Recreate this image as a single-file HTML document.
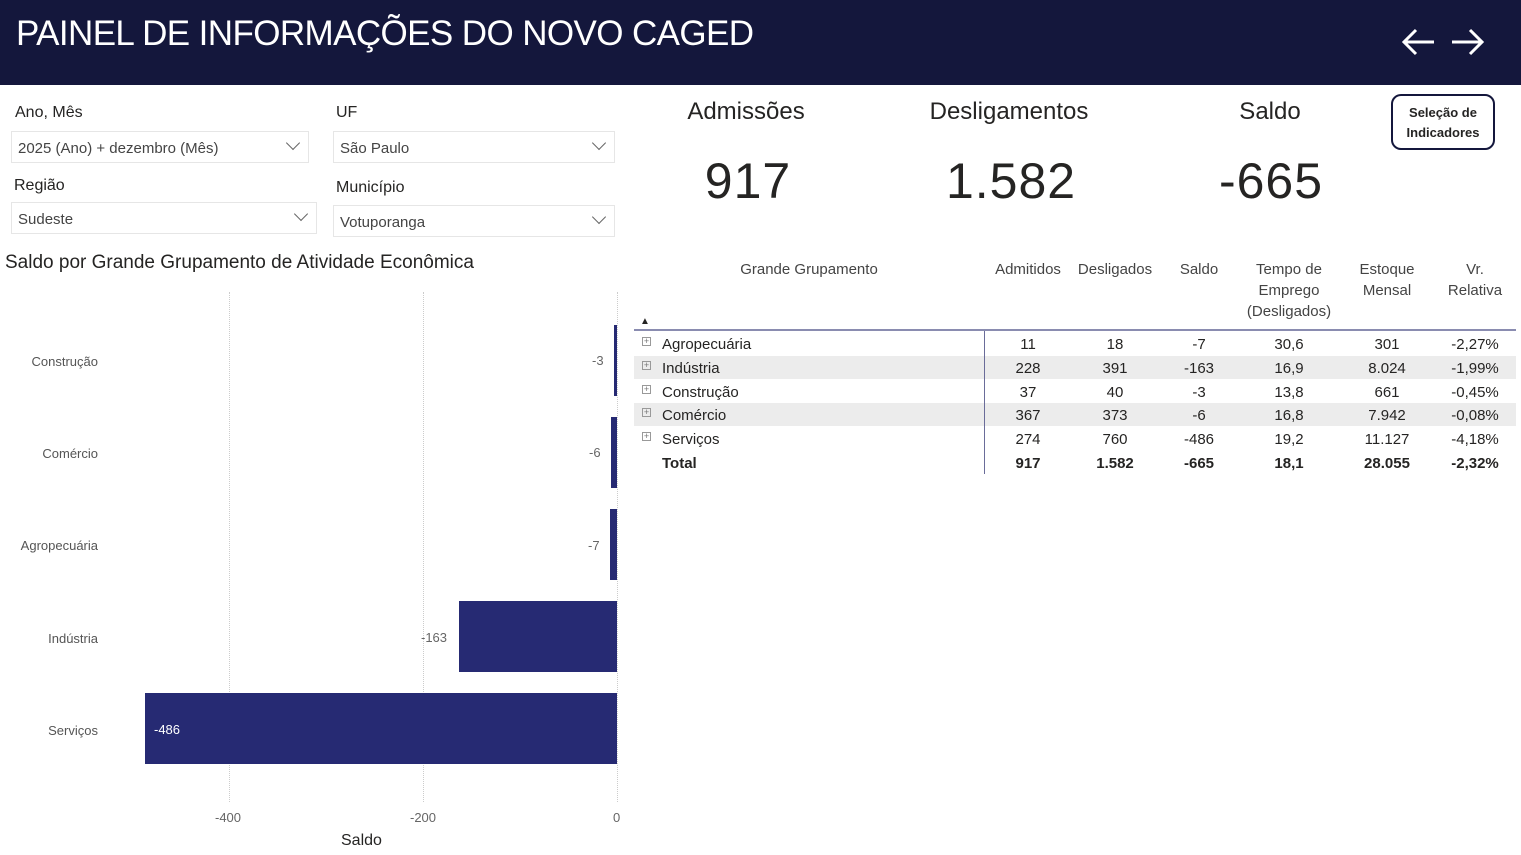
<!DOCTYPE html>
<html><head><meta charset="utf-8"><style>
*{margin:0;padding:0;box-sizing:border-box}
body{width:1521px;height:855px;background:#fff;font-family:"Liberation Sans","DejaVu Sans",sans-serif;position:relative;overflow:hidden;color:#252423}
.a{position:absolute;white-space:nowrap}
.hdr{left:0;top:0;width:1521px;height:85px;background:#14173c}
.lbl{font-size:16px;color:#252423}
.sel{border:1px solid #e6e6e6;height:32px;font-size:15px;color:#444;padding:8px 6px}
.chev{position:absolute;right:10px;top:6px;width:10px;height:10px;border-right:1.3px solid #666;border-bottom:1.3px solid #666;transform:rotate(45deg)}
.kl{font-size:24px;color:#252423;transform:translateX(-50%)}
.kn{font-size:50px;color:#252423;transform:translateX(-50%);letter-spacing:1px}
.th{font-size:15px;color:#444;text-align:center;line-height:21px;transform:translateX(-50%)}
.td{font-size:15px;color:#252423;transform:translateX(-50%)}
.b{font-weight:bold}
.bar{position:absolute;background:#262a73}
.cat{font-size:13px;color:#555;text-align:right;right:1423px}
.pl{font-size:13px;color:#666}
.grid{position:absolute;top:292px;height:510px;border-left:1px dotted #ccc}
.pm{position:absolute;width:9px;height:9px;border:1px solid #999;font-size:9px;line-height:7px;text-align:center;color:#777}
</style></head><body>
<div class="a hdr"></div>
<div class="a" style="left:16px;top:14px;font-size:35px;color:#fff;letter-spacing:-0.6px">PAINEL DE INFORMAÇÕES DO NOVO CAGED</div>
<svg class="a" style="left:1398px;top:22px" width="90" height="40"><g stroke="#fff" stroke-width="3" fill="none"><path d="M6 20H36M18 8L6 20L18 32"/><path d="M54 20H84M72 8L84 20L72 32"/></g></svg>

<div class="a lbl" style="left:15px;top:104px">Ano, Mês</div>
<div class="a sel" style="left:11px;top:131px;width:298px">2025 (Ano) + dezembro (Mês)<span class="chev"></span></div>
<div class="a lbl" style="left:336px;top:104px">UF</div>
<div class="a sel" style="left:333px;top:131px;width:282px">São Paulo<span class="chev"></span></div>
<div class="a lbl" style="left:14px;top:177px">Região</div>
<div class="a sel" style="left:11px;top:202px;width:306px">Sudeste<span class="chev"></span></div>
<div class="a lbl" style="left:336px;top:179px">Município</div>
<div class="a sel" style="left:333px;top:205px;width:282px">Votuporanga<span class="chev"></span></div>

<div class="a" style="left:5px;top:252px;font-size:19px;color:#252423">Saldo por Grande Grupamento de Atividade Econômica</div>
<div class="grid" style="left:229px"></div>
<div class="grid" style="left:423px"></div>
<div class="grid" style="left:617px"></div>
<div class="bar" style="left:614px;top:325px;width:3px;height:71px"></div>
<div class="bar" style="left:611px;top:417px;width:6px;height:71px"></div>
<div class="bar" style="left:610px;top:509px;width:7px;height:71px"></div>
<div class="bar" style="left:459px;top:601px;width:158px;height:71px"></div>
<div class="bar" style="left:145px;top:693px;width:472px;height:71px"></div>
<div class="a cat" style="top:354px">Construção</div>
<div class="a cat" style="top:446px">Comércio</div>
<div class="a cat" style="top:538px">Agropecuária</div>
<div class="a cat" style="top:631px">Indústria</div>
<div class="a cat" style="top:723px">Serviços</div>
<div class="a pl" style="left:592px;top:353px">-3</div>
<div class="a pl" style="left:589px;top:445px">-6</div>
<div class="a pl" style="left:588px;top:538px">-7</div>
<div class="a pl" style="left:421px;top:630px">-163</div>
<div class="a pl" style="left:154px;top:722px;color:#fff">-486</div>
<div class="a pl" style="left:215px;top:810px">-400</div>
<div class="a pl" style="left:410px;top:810px">-200</div>
<div class="a pl" style="left:613px;top:810px">0</div>
<div class="a" style="left:341px;top:832px;font-size:16px">Saldo</div>

<div class="a kl" style="left:746px;top:98px">Admissões</div>
<div class="a kl" style="left:1009px;top:98px">Desligamentos</div>
<div class="a kl" style="left:1270px;top:98px">Saldo</div>
<div class="a kn" style="left:748px;top:152px">917</div>
<div class="a kn" style="left:1011px;top:152px">1.582</div>
<div class="a kn" style="left:1271px;top:152px">-665</div>
<div class="a" style="left:1391px;top:94px;width:104px;height:56px;border:2px solid #14173c;border-radius:10px;font-size:13px;font-weight:bold;text-align:center;line-height:20px;padding-top:7px;white-space:normal">Seleção de Indicadores</div>

<div class="a th" style="left:809px;top:259px">Grande Grupamento</div>
<div class="a th" style="left:1028px;top:259px">Admitidos</div>
<div class="a th" style="left:1115px;top:259px">Desligados</div>
<div class="a th" style="left:1199px;top:259px">Saldo</div>
<div class="a th" style="left:1289px;top:259px">Tempo de<br>Emprego<br>(Desligados)</div>
<div class="a th" style="left:1387px;top:259px">Estoque<br>Mensal</div>
<div class="a th" style="left:1475px;top:259px">Vr.<br>Relativa</div>
<div class="a" style="left:640px;top:316px;font-size:10px">▲</div>
<div class="a" style="left:634px;top:329px;width:882px;height:2px;background:#8a8cb0"></div>
<div class="a" style="left:634px;top:356px;width:882px;height:23px;background:#ececec"></div>
<div class="a" style="left:634px;top:403px;width:882px;height:23px;background:#ececec"></div>
<div class="a" style="left:984px;top:331px;width:1px;height:143px;background:#6a6c99"></div>

<div class="pm" style="left:642px;top:337px">+</div>
<div class="pm" style="left:642px;top:361px">+</div>
<div class="pm" style="left:642px;top:385px">+</div>
<div class="pm" style="left:642px;top:408px">+</div>
<div class="pm" style="left:642px;top:432px">+</div>

<div class="a" style="left:662px;top:336px;font-size:15px">Agropecuária</div>
<div class="a" style="left:662px;top:360px;font-size:15px">Indústria</div>
<div class="a" style="left:662px;top:384px;font-size:15px">Construção</div>
<div class="a" style="left:662px;top:407px;font-size:15px">Comércio</div>
<div class="a" style="left:662px;top:431px;font-size:15px">Serviços</div>
<div class="a b" style="left:662px;top:455px;font-size:15px">Total</div>

<div class="a td" style="left:1028px;top:336px">11</div><div class="a td" style="left:1115px;top:336px">18</div><div class="a td" style="left:1199px;top:336px">-7</div><div class="a td" style="left:1289px;top:336px">30,6</div><div class="a td" style="left:1387px;top:336px">301</div><div class="a td" style="left:1475px;top:336px">-2,27%</div>
<div class="a td" style="left:1028px;top:360px">228</div><div class="a td" style="left:1115px;top:360px">391</div><div class="a td" style="left:1199px;top:360px">-163</div><div class="a td" style="left:1289px;top:360px">16,9</div><div class="a td" style="left:1387px;top:360px">8.024</div><div class="a td" style="left:1475px;top:360px">-1,99%</div>
<div class="a td" style="left:1028px;top:384px">37</div><div class="a td" style="left:1115px;top:384px">40</div><div class="a td" style="left:1199px;top:384px">-3</div><div class="a td" style="left:1289px;top:384px">13,8</div><div class="a td" style="left:1387px;top:384px">661</div><div class="a td" style="left:1475px;top:384px">-0,45%</div>
<div class="a td" style="left:1028px;top:407px">367</div><div class="a td" style="left:1115px;top:407px">373</div><div class="a td" style="left:1199px;top:407px">-6</div><div class="a td" style="left:1289px;top:407px">16,8</div><div class="a td" style="left:1387px;top:407px">7.942</div><div class="a td" style="left:1475px;top:407px">-0,08%</div>
<div class="a td" style="left:1028px;top:431px">274</div><div class="a td" style="left:1115px;top:431px">760</div><div class="a td" style="left:1199px;top:431px">-486</div><div class="a td" style="left:1289px;top:431px">19,2</div><div class="a td" style="left:1387px;top:431px">11.127</div><div class="a td" style="left:1475px;top:431px">-4,18%</div>
<div class="a td b" style="left:1028px;top:455px">917</div><div class="a td b" style="left:1115px;top:455px">1.582</div><div class="a td b" style="left:1199px;top:455px">-665</div><div class="a td b" style="left:1289px;top:455px">18,1</div><div class="a td b" style="left:1387px;top:455px">28.055</div><div class="a td b" style="left:1475px;top:455px">-2,32%</div>
</body></html>
